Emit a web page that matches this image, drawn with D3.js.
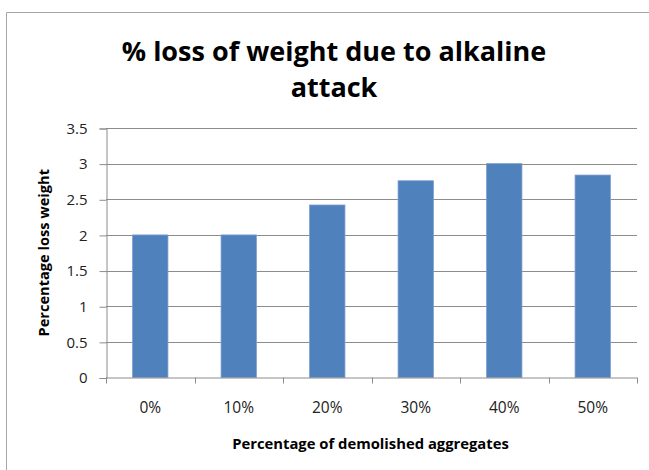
<!DOCTYPE html>
<html>
<head>
<meta charset="utf-8">
<script src="https://cdn.jsdelivr.net/npm/d3@7"></script>
<style>
  html, body { margin: 0; padding: 0; background: #fff; }
  svg { display: block; font-family: "Open Sans", Lato, "Liberation Sans", sans-serif; }
</style>
</head>
<body>
<svg id="chart" width="649" height="470"></svg>
<script>
// Weight loss under alkaline attack vs. share of demolished aggregates
const categories = ["0%", "10%", "20%", "30%", "40%", "50%"];
const lossValues = [2.0, 2.0, 2.42, 2.76, 3.0, 2.84];
const yTicks = [0, 0.5, 1, 1.5, 2, 2.5, 3, 3.5];
const titleLines = ["% loss of weight due to alkaline", "attack"];
const xTitle = "Percentage of demolished aggregates";
const yTitle = "Percentage loss weight";

const svg = d3.select("#chart");
const plot = { left: 106, right: 637, top: 128, bottom: 377.5 };

// Outer chart frame (left and top edges visible)
svg.append("path")
  .attr("d", "M6.5,470 L6.5,12.5 L649,12.5")
  .attr("fill", "none")
  .attr("stroke", "#a6a6a6")
  .attr("stroke-width", 1);

const x = d3.scaleBand()
  .domain(categories)
  .range([plot.left, plot.right])
  .paddingInner(0.6)
  .paddingOuter(0.3);

const y = d3.scaleLinear()
  .domain([0, 3.5])
  .range([plot.bottom, plot.top]);

// Horizontal gridlines
svg.append("g")
  .selectAll("line")
  .data(yTicks.filter(d => d > 0))
  .join("line")
  .attr("x1", plot.left)
  .attr("x2", plot.right)
  .attr("y1", d => Math.round(y(d)) + 0.5)
  .attr("y2", d => Math.round(y(d)) + 0.5)
  .attr("stroke", "#8c8c8c")
  .attr("stroke-width", 1);

// Bars
svg.append("g")
  .selectAll("rect")
  .data(lossValues)
  .join("rect")
  .attr("x", (d, i) => x(categories[i]))
  .attr("width", x.bandwidth())
  .attr("y", d => y(d))
  .attr("height", d => plot.bottom - y(d))
  .attr("fill", "#4f81bd")
  .attr("stroke", "#7ea1cf")
  .attr("stroke-width", 0.8);

// Y axis
const yAxis = d3.axisLeft(y)
  .tickValues(yTicks)
  .tickFormat(d3.format("~g"))
  .tickSize(7)
  .tickPadding(12);
const gy = svg.append("g")
  .attr("transform", `translate(${plot.left + 0.5},0.5)`)
  .call(yAxis);
gy.select(".domain").attr("stroke", "#8c8c8c");
gy.selectAll(".tick line").attr("stroke", "#8c8c8c");
gy.selectAll(".tick text")
  .attr("fill", "#222")
  .style("font-size", "15px")
  .style("font-family", "'Open Sans', Lato, sans-serif");

// X axis: tick marks at category boundaries
const step = x.step();
const bounds = d3.range(categories.length + 1).map(i => plot.left + i * step);
svg.append("line")
  .attr("x1", plot.left).attr("x2", plot.right)
  .attr("y1", plot.bottom + 0.5).attr("y2", plot.bottom + 0.5)
  .attr("stroke", "#8c8c8c");
svg.append("g")
  .selectAll("line")
  .data(bounds)
  .join("line")
  .attr("x1", d => Math.round(d) + 0.5)
  .attr("x2", d => Math.round(d) + 0.5)
  .attr("y1", plot.bottom)
  .attr("y2", plot.bottom + 6)
  .attr("stroke", "#8c8c8c");

// Category labels
svg.append("g")
  .selectAll("text")
  .data(categories)
  .join("text")
  .attr("x", d => x(d) + x.bandwidth() / 2)
  .attr("y", 413)
  .attr("text-anchor", "middle")
  .attr("fill", "#222")
  .style("font-size", "15.5px")
  .text(d => d);

// Title
svg.append("g")
  .selectAll("text")
  .data(titleLines)
  .join("text")
  .attr("x", 334)
  .attr("y", (d, i) => 61 + i * 35.5)
  .attr("text-anchor", "middle")
  .attr("fill", "#000")
  .style("font-size", "27px")
  .style("font-weight", "bold")
  .text(d => d);

// Axis titles
svg.append("text")
  .attr("x", 370.5)
  .attr("y", 449)
  .attr("text-anchor", "middle")
  .attr("fill", "#000")
  .style("font-size", "14.8px")
  .style("font-weight", "bold")
  .text(xTitle);

svg.append("text")
  .attr("transform", `translate(48.5,${(plot.top + plot.bottom) / 2}) rotate(-90)`)
  .attr("text-anchor", "middle")
  .attr("fill", "#000")
  .style("font-size", "14.6px")
  .style("font-weight", "bold")
  .text(yTitle);
</script>
</body>
</html>
